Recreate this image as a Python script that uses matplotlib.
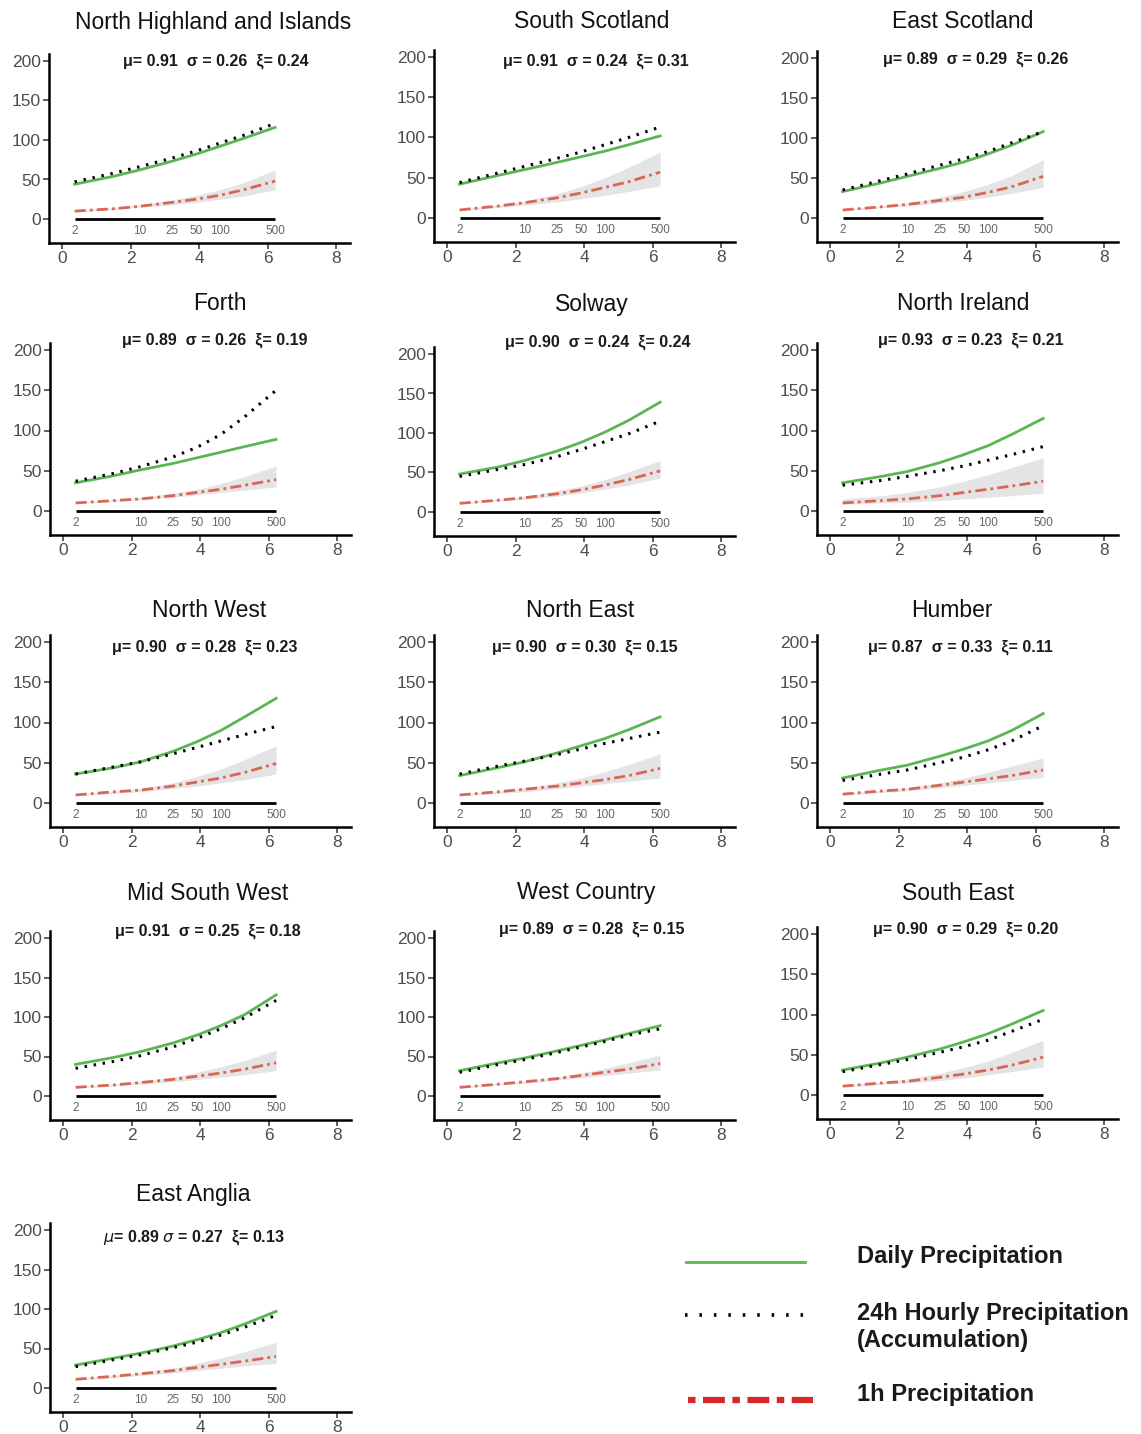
import numpy as np
import matplotlib
matplotlib.use("Agg")
import matplotlib.pyplot as plt

W, H = 1141, 1434

regions = [
    "North Highland and Islands", "South Scotland", "East Scotland",
    "Forth", "Solway", "North Ireland",
    "North West", "North East", "Humber",
    "Mid South West", "West Country", "South East",
    "East Anglia",
]
# scaling parameters printed above each panel (mu, sigma, xi)
params = [
    (0.91, 0.26, 0.24), (0.91, 0.24, 0.31), (0.89, 0.29, 0.26),
    (0.89, 0.26, 0.19), (0.90, 0.24, 0.24), (0.93, 0.23, 0.21),
    (0.90, 0.28, 0.23), (0.90, 0.30, 0.15), (0.87, 0.33, 0.11),
    (0.91, 0.25, 0.18), (0.89, 0.28, 0.15), (0.90, 0.29, 0.20),
    (0.89, 0.27, 0.13),
]

return_periods = [2, 5, 10, 25, 50, 100, 200, 500]
label_periods = [2, 10, 25, 50, 100, 500]

daily = [
    [44, 54, 62, 73, 82, 92, 102, 116],
    [42, 53, 60, 69, 76, 83, 91, 102],
    [33, 44, 52, 62, 70, 80, 91, 108],
    [35, 44, 51, 59, 66, 73, 80, 89],
    [48, 57, 65, 77, 88, 101, 116, 139],
    [35, 43, 49, 60, 70, 81, 95, 115],
    [36, 44, 51, 64, 76, 90, 107, 130],
    [34, 44, 51, 62, 71, 80, 91, 107],
    [31, 41, 47, 58, 67, 77, 90, 111],
    [40, 49, 56, 67, 77, 89, 103, 128],
    [32, 42, 48, 57, 64, 71, 79, 89],
    [31, 40, 47, 57, 66, 76, 88, 105],
    [29, 38, 44, 53, 61, 70, 81, 97],
]
hourly_24h = [
    [47, 58, 66, 77, 86, 96, 106, 121],
    [44, 56, 64, 74, 82, 91, 100, 113],
    [35, 47, 55, 66, 74, 83, 94, 108],
    [37, 47, 55, 67, 79, 95, 117, 150],
    [45, 54, 60, 70, 79, 89, 99, 115],
    [32, 38, 43, 50, 56, 63, 70, 80],
    [36, 45, 51, 61, 69, 77, 85, 95],
    [36, 46, 52, 60, 67, 74, 80, 88],
    [28, 36, 41, 50, 57, 66, 77, 96],
    [35, 44, 51, 62, 73, 85, 99, 121],
    [30, 40, 46, 55, 62, 69, 77, 85],
    [29, 38, 44, 53, 60, 68, 79, 94],
    [27, 36, 42, 51, 58, 67, 77, 92],
]
hourly_1h = [
    [10, 13, 16, 21, 25, 30, 37, 48],
    [10, 15, 19, 25, 31, 38, 45, 57],
    [10, 14, 17, 22, 26, 32, 39, 52],
    [10, 13, 15, 19, 23, 27, 32, 39],
    [11, 15, 18, 23, 28, 34, 41, 52],
    [10, 13, 15, 19, 23, 27, 31, 37],
    [10, 14, 16, 21, 26, 31, 38, 49],
    [10, 14, 17, 21, 25, 29, 34, 43],
    [11, 15, 17, 22, 26, 30, 34, 41],
    [11, 14, 17, 21, 25, 29, 34, 42],
    [11, 15, 18, 22, 26, 30, 34, 41],
    [11, 15, 17, 22, 26, 31, 37, 47],
    [11, 15, 18, 22, 26, 30, 34, 40],
]
ci_low = [
    [9, 12, 15, 18, 21, 25, 29, 37],
    [9, 13, 16, 20, 24, 28, 33, 40],
    [9, 13, 15, 19, 22, 26, 31, 38],
    [9, 12, 14, 17, 20, 23, 26, 30],
    [10, 14, 16, 20, 24, 29, 34, 43],
    [8, 10, 11, 13, 15, 17, 19, 22],
    [9, 12, 14, 18, 21, 25, 29, 36],
    [9, 12, 14, 18, 21, 24, 27, 31],
    [10, 13, 15, 19, 22, 25, 28, 32],
    [10, 13, 15, 18, 21, 24, 27, 32],
    [10, 14, 16, 20, 23, 26, 29, 33],
    [10, 13, 15, 18, 21, 25, 29, 35],
    [10, 13, 16, 19, 22, 25, 28, 31],
]
ci_high = [
    [11, 15, 18, 24, 30, 37, 46, 62],
    [11, 16, 21, 30, 39, 50, 63, 82],
    [11, 15, 19, 26, 33, 42, 53, 73],
    [11, 14, 17, 22, 27, 34, 43, 56],
    [12, 16, 20, 27, 33, 41, 51, 65],
    [15, 19, 23, 30, 37, 45, 54, 66],
    [11, 15, 18, 25, 33, 42, 54, 71],
    [11, 15, 19, 25, 31, 39, 48, 61],
    [12, 16, 19, 25, 31, 38, 46, 56],
    [12, 15, 19, 24, 30, 37, 45, 58],
    [12, 16, 19, 24, 29, 35, 42, 52],
    [12, 16, 20, 27, 34, 42, 53, 68],
    [12, 16, 20, 25, 31, 38, 46, 58],
]

# layout in pixels: (x of data 0, y of data 200, y of data 0, title centre, label centre)
panel_px = [
    (62, 61, 219, (213, 22), (216, 61)),
    (447, 57, 218, (592, 22), (596, 61)),
    (830, 58, 218, (963, 22), (976, 59)),
    (63, 350, 511, (220, 303), (215, 340)),
    (447, 354, 512, (592, 305), (598, 342)),
    (830, 350, 511, (963, 303), (971, 340)),
    (63, 642, 803, (209, 610), (205, 647)),
    (447, 642, 803, (580, 610), (585, 647)),
    (830, 642, 803, (952, 610), (960, 647)),
    (63, 938, 1096, (208, 893), (208, 931)),
    (447, 938, 1096, (586, 893), (592, 929)),
    (830, 934, 1095, (958, 893), (966, 929)),
    (63, 1230, 1388, (193, 1195), (194, 1238)),
]

GREEN = "#5cb553"
RED = "#d8503c"
TICK_GREY = "#4d4d4d"


def gumbel(T):
    T = np.asarray(T, dtype=float)
    return -np.log(-np.log(1.0 - 1.0 / T))


def fpos(x, y):
    return x / W, 1.0 - y / H


plt.rcParams["font.family"] = ["Liberation Sans", "DejaVu Sans"]
plt.rcParams["mathtext.fontset"] = "dejavusans"

fig = plt.figure(figsize=(W / 100, H / 100), dpi=100)
fig.patch.set_facecolor("white")

xg = gumbel(return_periods)
xl = gumbel(label_periods)
XMIN, XMAX, YMIN, YMAX = -0.38, 8.4, -30, 209
XS = 34.3

for i, region in enumerate(regions):
    x0, y200, y0, tpos, apos = panel_px[i]
    ys = (y0 - y200) / 200.0
    left = x0 + XMIN * XS
    right = x0 + XMAX * XS
    top = y200 - (YMAX - 200) * ys
    bottom = y0 - YMIN * ys
    ax = fig.add_axes([left / W, 1 - bottom / H, (right - left) / W, (bottom - top) / H])
    ax.set_xlim(XMIN, XMAX)
    ax.set_ylim(YMIN, YMAX)
    ax.set_facecolor("none")

    ax.fill_between(xg, ci_low[i], ci_high[i], color="#dcdcdc", alpha=0.75, lw=0, zorder=1)
    ax.plot(xg, hourly_1h[i], color=RED, lw=2.0, alpha=0.85,
            linestyle=(0, (4, 1.5, 1, 1.5)), zorder=3)
    ax.plot(xg, daily[i], color=GREEN, lw=2.0, zorder=4)
    ax.plot(xg, hourly_24h[i], color="black", lw=2.2,
            linestyle=(0, (0.8, 2.2)), zorder=5)

    # return-period guide at y = 0
    ax.plot([xl[0], xl[-1]], [0, 0], color="black", lw=2.0, solid_capstyle="butt", zorder=2)
    for xv, T in zip(xl, label_periods):
        ax.text(xv, -15, str(T), ha="center", va="center", fontsize=8.5, color="#666666")

    ax.set_xticks([0, 2, 4, 6, 8])
    ax.set_yticks([0, 50, 100, 150, 200])
    ax.tick_params(labelsize=12.5, labelcolor=TICK_GREY, color="#333333",
                   length=4, width=1.1, pad=2)
    for s in ("top", "right"):
        ax.spines[s].set_visible(False)
    for s in ("left", "bottom"):
        ax.spines[s].set_linewidth(1.8)
        ax.spines[s].set_color("black")

    mu, sigma, xi = params[i]
    fig.text(*fpos(*tpos), region, ha="center", va="center", fontsize=16.5, color="#111111")
    if region == "East Anglia":
        label = rf"$\mu$= {mu:.2f} $\sigma$ = {sigma:.2f}  ξ= {xi:.2f}"
    else:
        label = f"μ= {mu:.2f}  σ = {sigma:.2f}  ξ= {xi:.2f}"
    fig.text(*fpos(*apos), label, ha="center", va="center", fontsize=11.5,
             fontweight="bold", color="#1a1a1a")

# legend drawn in pixel space
lg = fig.add_axes([0, 0, 1, 1], zorder=-1)
lg.set_xlim(0, W)
lg.set_ylim(H, 0)
lg.axis("off")
lg.plot([686, 805], [1262, 1262], color=GREEN, lw=2.0)
lg.plot([685, 815], [1315, 1315], color="black", lw=2.6, linestyle=(0, (0.7, 3.3)))
lg.plot([688, 813], [1400, 1400], color="#d62828", lw=4.5,
        linestyle=(0, (1.2, 1.2, 3.5, 1.2)))
lg.text(857, 1257, "Daily Precipitation", fontsize=17, fontweight="bold",
        va="center", ha="left", color="#1a1a1a")
lg.text(857, 1327, "24h Hourly Precipitation\n(Accumulation)", fontsize=17,
        fontweight="bold", va="center", ha="left", color="#1a1a1a", linespacing=1.2)
lg.text(857, 1395, "1h Precipitation", fontsize=17, fontweight="bold",
        va="center", ha="left", color="#1a1a1a")

fig.savefig("out.png", dpi=100, facecolor="white")
